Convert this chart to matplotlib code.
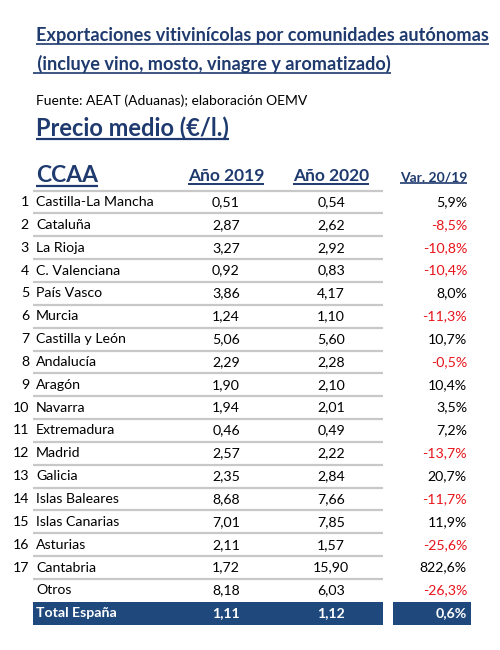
import matplotlib
matplotlib.use("Agg")
import matplotlib.pyplot as plt

plt.rcParams['font.family'] = ['Lato', 'DejaVu Sans']

title1 = "Exportaciones vitivinícolas por comunidades autónomas"
title2 = " (incluye vino, mosto, vinagre y aromatizado)"
source = "Fuente: AEAT (Aduanas); elaboración OEMV"
subtitle = "Precio medio (€/l.)"
headers = ["CCAA", "Año 2019", "Año 2020", "Var. 20/19"]

ranks = ["1", "2", "3", "4", "5", "6", "7", "8", "9", "10", "11", "12", "13",
         "14", "15", "16", "17", "", ""]
regions = ["Castilla-La Mancha", "Cataluña", "La Rioja", "C. Valenciana", "País Vasco",
           "Murcia", "Castilla y León", "Andalucía", "Aragón", "Navarra", "Extremadura",
           "Madrid", "Galicia", "Islas Baleares", "Islas Canarias", "Asturias", "Cantabria",
           "Otros", "Total España"]
y2019 = ["0,51", "2,87", "3,27", "0,92", "3,86", "1,24", "5,06", "2,29", "1,90", "1,94",
         "0,46", "2,57", "2,35", "8,68", "7,01", "2,11", "1,72", "8,18", "1,11"]
y2020 = ["0,54", "2,62", "2,92", "0,83", "4,17", "1,10", "5,60", "2,28", "2,10", "2,01",
         "0,49", "2,22", "2,84", "7,66", "7,85", "1,57", "15,90", "6,03", "1,12"]
var = ["5,9%", "-8,5%", "-10,8%", "-10,4%", "8,0%", "-11,3%", "10,7%", "-0,5%", "10,4%",
       "3,5%", "7,2%", "-13,7%", "20,7%", "-11,7%", "11,9%", "-25,6%", "822,6%", "-26,3%", "0,6%"]

NAVY = "#1F3A6E"
BOX = "#1F497D"
RED = "#E8151B"
GRID = "#C8C8C8"

fig = plt.figure(figsize=(5, 6.5), dpi=100)
ax = fig.add_axes([0, 0, 1, 1])
ax.set_xlim(0, 500)
ax.set_ylim(650, 0)
ax.axis("off")

underlined = []

t = ax.text(36, 36, title1, fontsize=13.05, fontweight="bold", color=NAVY, va="center", ha="left")
underlined.append((t, 1.2))
t = ax.text(33, 64, title2, fontsize=13.05, fontweight="bold", color=NAVY, va="center", ha="left")
underlined.append((t, 1.2))
ax.text(36, 101, source, fontsize=10, color="black", va="center", ha="left")
t = ax.text(36, 128, subtitle, fontsize=17, fontweight="bold", color=NAVY, va="center", ha="left")
underlined.append((t, 1.6))

hy = 176
t = ax.text(36, hy, headers[0], fontsize=16.5, fontweight="bold", color=NAVY, va="center", ha="left")
underlined.append((t, 1.6))
t = ax.text(226, hy, headers[1], fontsize=12.5, fontweight="bold", color=NAVY, va="center", ha="center")
underlined.append((t, 1.4))
t = ax.text(331, hy, headers[2], fontsize=12.5, fontweight="bold", color=NAVY, va="center", ha="center")
underlined.append((t, 1.4))
t = ax.text(467, hy + 1, headers[3], fontsize=10, fontweight="bold", color=NAVY, va="center", ha="right")
underlined.append((t, 1.2))

y0, dy = 202, 22.85
n = len(regions)
for i in range(n):
    y = y0 + i * dy
    is_total = (i == n - 1)
    if i <= n - 2:
        ax.plot([33, 383], [y - dy / 2, y - dy / 2], color=GRID, lw=1.6, solid_capstyle="butt")
    if is_total:
        ax.add_patch(plt.Rectangle((33, y - dy / 2), 350, dy, color=BOX, lw=0))
        ax.add_patch(plt.Rectangle((393, y - dy / 2), 78, dy, color=BOX, lw=0))
        col = "white"
        fw = "bold"
    else:
        col = "black"
        fw = "normal"
    fs = 10.2
    ax.text(29, y, ranks[i], fontsize=fs, color=col, va="center", ha="right")
    ax.text(36, y, regions[i], fontsize=fs, color=col, fontweight=fw, va="center", ha="left")
    ax.text(226, y, y2019[i], fontsize=fs, color=col, fontweight=fw, va="center", ha="center")
    ax.text(331, y, y2020[i], fontsize=fs, color=col, fontweight=fw, va="center", ha="center")
    vcol = col if is_total else (RED if var[i].startswith("-") else "black")
    ax.text(467, y, var[i], fontsize=fs, color=vcol, fontweight=fw, va="center", ha="right")

fig.canvas.draw()
r = fig.canvas.get_renderer()
inv = ax.transData.inverted()
for t, lw in underlined:
    bb = t.get_window_extent(renderer=r)
    (x0, yb), (x1, _) = inv.transform([(bb.x0, bb.y0), (bb.x1, bb.y1)])
    ax.plot([x0, x1], [yb - 0.5, yb - 0.5], color=t.get_color(), lw=lw, solid_capstyle="butt")

fig.savefig("out.png", dpi=100, facecolor="white")
